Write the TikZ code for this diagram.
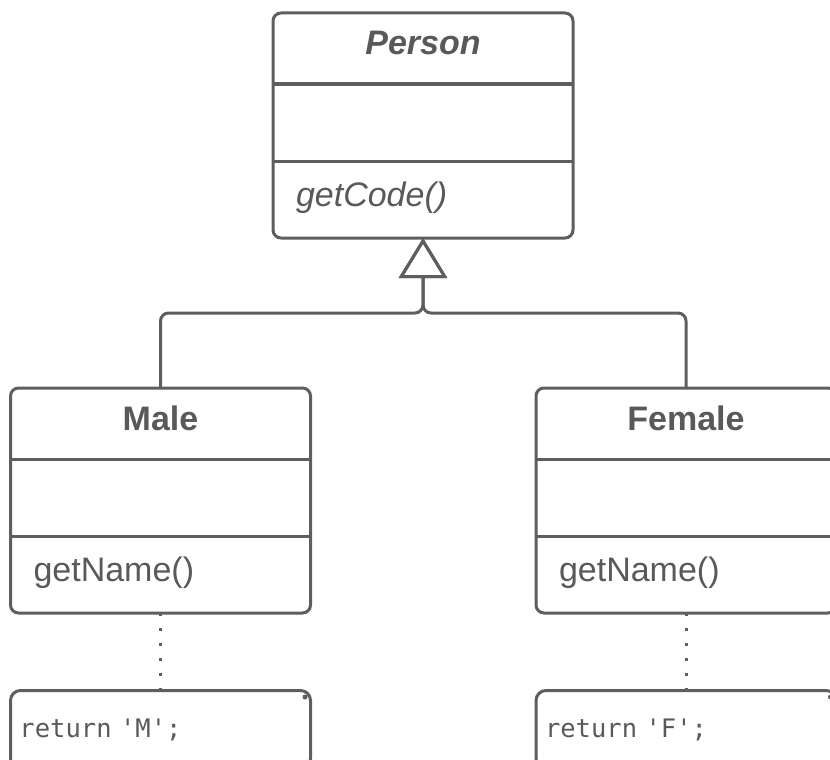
\documentclass[tikz,border=0pt]{standalone}
\usepackage{fontspec}
\setmainfont{Liberation Sans}
\setmonofont{DejaVu Sans Mono}
\usetikzlibrary{calc}
\usetikzlibrary{positioning}
\usetikzlibrary{arrows.meta}
\definecolor{umlGray}{HTML}{5E5E5E}
\definecolor{textGray}{HTML}{595959}
\newcommand{\classbox}[4]{
    \begin{scope}[outer sep=0pt]
        \node (#1) [draw, rounded corners=8pt, minimum width=\boxWidth, minimum height=\titleHeight+\partHeight*2, #2] {};
        \node (#1_title) [text=textGray, font=\fontsize{34}{40}\selectfont\bfseries, text depth=11pt, minimum width=\boxWidth, minimum height=\titleHeight, below=0pt of #1.north, anchor=north] {#3};
        \node (#1_attr) [minimum width=\boxWidth, minimum height=\partHeight, below=0pt of #1_title] {};
        \node (#1_ops) [text=textGray, font=\fontsize{34}{40}\selectfont, align=left, text width=\boxWidth-46, inner xsep=23pt, text depth=10pt, minimum height=\partHeight, below=0pt of #1_attr] {#4};
        \draw (#1.west |- #1_title.south) -- (#1.east |- #1_title.south);
        \draw (#1.west |- #1_attr.south) -- (#1.east |- #1_attr.south);
    \end{scope}
}

\begin{document}
\begin{tikzpicture}[x=1pt, y=1pt, line width=3pt, draw=umlGray, color=umlGray]
    \pgfmathsetmacro{\boxWidth}{300}
    \pgfmathsetmacro{\titleHeight}{71}
    \pgfmathsetmacro{\partHeight}{77}
    \pgfmathsetmacro{\noteHeight}{78}

    \useasboundingbox (0,0) rectangle (830,-760);
    \clip (0,0) rectangle (830,-760);

    \classbox{person}{at={(423,-125.5)}}{\itshape Person}{\itshape getCode()}
    \classbox{male}{at={(160.5,-500.5)}}{Male}{getName()}
    \classbox{female}{at={(686,-500.5)}}{Female}{getName()}

    \node (male_note) [draw, rounded corners=10pt, minimum width=\boxWidth, minimum height=\noteHeight, text width=\boxWidth-18, inner xsep=9pt, align=left, text=textGray, font=\fontsize{25.5}{30}\selectfont\ttfamily, below=76pt of male] {return 'M';};
    \node (female_note) [draw, rounded corners=10pt, minimum width=\boxWidth, minimum height=\noteHeight, text width=\boxWidth-18, inner xsep=9pt, align=left, text=textGray, font=\fontsize{25.5}{30}\selectfont\ttfamily, below=76pt of female] {return 'F';};

    % folded corner of the notes
    \fill ([xshift=-7pt, yshift=-8pt]male_note.north east) circle (2.5pt);
    \fill ([xshift=-7pt, yshift=-8pt]female_note.north east) circle (2.5pt);

    \coordinate (split) at ([yshift=-75pt]person.south);

    \draw [rounded corners=8pt, -{Triangle[open, length=40pt, width=48pt]}] (male.north) |- (split) -- (person.south);
    \draw [rounded corners=8pt, -{Triangle[open, length=40pt, width=48pt]}] (female.north) |- (split) -- (person.south);

    \draw [dash pattern=on 3pt off 12pt] (male.south) -- (male_note.north);
    \draw [dash pattern=on 3pt off 12pt] (female.south) -- (female_note.north);
\end{tikzpicture}
\end{document}
